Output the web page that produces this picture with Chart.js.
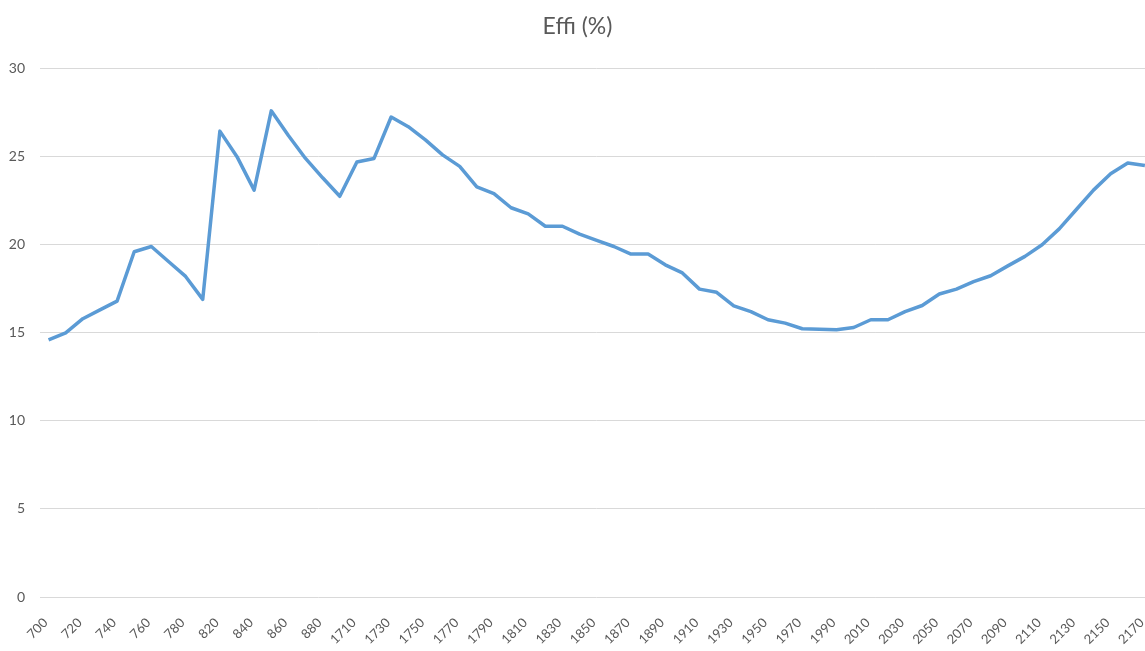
<!DOCTYPE html>
<html>
<head>
<meta charset="utf-8">
<script src="https://cdn.jsdelivr.net/npm/chart.js@4/dist/chart.umd.min.js"></script>
<style>
    html, body { margin: 0; padding: 0; overflow: hidden; background: #fff; }
    #wrap { width: 1166px; height: 651px; }
</style>
</head>
<body>
<div id="wrap"><canvas id="myChart"></canvas></div>
<script>
const categorias = [
    700, 710, 720, 730, 740, 750, 760, 770, 780, 800,
    820, 830, 840, 850, 860, 870, 880, 890,
    1710, 1720, 1730, 1740, 1750, 1760, 1770, 1780, 1790, 1800,
    1810, 1820, 1830, 1840, 1850, 1860, 1870, 1880, 1890, 1900,
    1910, 1920, 1930, 1940, 1950, 1960, 1970, 1980, 1990, 2000,
    2010, 2020, 2030, 2040, 2050, 2060, 2070, 2080, 2090, 2100,
    2110, 2120, 2130, 2140, 2150, 2160, 2170
];

const effi = [
    14.6, 15.0, 15.8, 16.3, 16.8, 19.6, 19.9, 19.05, 18.2, 16.9,
    26.45, 25.0, 23.1, 27.6, 26.2, 24.9, 23.8, 22.75,
    24.7, 24.9, 27.25, 26.7, 25.95, 25.1, 24.45, 23.28, 22.9, 22.1,
    21.75, 21.05, 21.05, 20.6, 20.25, 19.9, 19.47, 19.47, 18.86, 18.4,
    17.48, 17.3, 16.53, 16.2, 15.74, 15.55, 15.23, 15.2, 15.17, 15.3,
    15.74, 15.74, 16.2, 16.55, 17.2, 17.48, 17.9, 18.24, 18.8, 19.34,
    20.0, 20.9, 22.0, 23.1, 24.03, 24.64, 24.5
];

const ticksY = [0, 5, 10, 15, 20, 25, 30];

const gris = '#595959';
const fuente = 'Lato, "Liberation Sans", sans-serif';

const ctx = document.getElementById('myChart').getContext('2d');

new Chart(ctx, {
    type: 'line',
    data: {
        labels: categorias,
        datasets: [{
            label: 'Effi (%)',
            data: effi,
            borderColor: '#5B9BD5',
            borderWidth: 3.5,
            borderJoinStyle: 'round',
            pointRadius: 0,
            tension: 0,
            fill: false
        }]
    },
    options: {
        responsive: true,
        maintainAspectRatio: false,
        animation: false,
        layout: {
            padding: { left: 0, right: 11, top: 0, bottom: 0 }
        },
        plugins: {
            legend: { display: false },
            tooltip: { enabled: false },
            title: {
                display: true,
                text: 'Effi (%)',
                color: gris,
                font: { family: fuente, size: 23, weight: 'normal' },
                padding: { top: 13, bottom: 28 }
            }
        },
        scales: {
            x: {
                offset: true,
                grid: { display: false },
                border: { display: false },
                afterFit: (scale) => { scale.height = 54; },
                ticks: {
                    autoSkip: false,
                    minRotation: 45,
                    maxRotation: 45,
                    padding: 10,
                    labelOffset: -3,
                    color: gris,
                    font: { family: fuente, size: 13 },
                    callback: function (value, index) {
                        return index % 2 === 0 ? this.getLabelForValue(value) : '';
                    }
                }
            },
            y: {
                min: ticksY[0],
                max: ticksY[ticksY.length - 1],
                afterFit: (scale) => { scale.width = 40; },
                afterBuildTicks: (scale) => {
                    scale.ticks = ticksY.map(v => ({ value: v }));
                },
                grid: { color: '#D9D9D9', lineWidth: 1, drawTicks: false },
                border: { display: false },
                ticks: {
                    padding: 15,
                    color: gris,
                    font: { family: fuente, size: 14 }
                }
            }
        }
    }
});
</script>
</body>
</html>
